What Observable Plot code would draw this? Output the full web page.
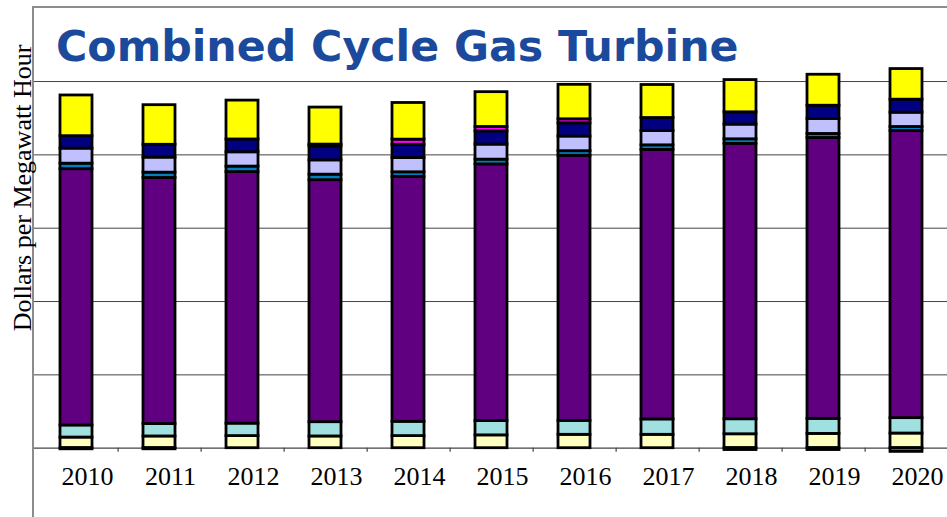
<!DOCTYPE html>
<html>
<head>
<meta charset="utf-8">
<script src="https://cdn.jsdelivr.net/npm/d3@7"></script>
<script src="https://cdn.jsdelivr.net/npm/@observablehq/plot@0.6"></script>
<style>
  html, body { margin: 0; padding: 0; background: #fff; }
  #wrap { position: relative; width: 947px; height: 517px; overflow: hidden; background: #fff; }
  #chart { position: absolute; left: 0; top: 0; }
  #border { position: absolute; left: 31.75px; top: 6.25px; width: 1000px; height: 600px;
            border-left: 2.5px solid #8c8c8c; border-top: 2.5px solid #8c8c8c; pointer-events: none; }
  #title { position: absolute; left: 56px; top: 25px; font-family: "DejaVu Sans", Verdana, sans-serif;
           font-weight: bold; font-size: 42.7px; line-height: 43px; color: #1b4a9c; white-space: nowrap; }
  #ylabel { position: absolute; left: 22.7px; top: 188px; transform: translate(-50%, -50%) rotate(-90deg);
            font-family: "Liberation Serif", "Times New Roman", serif; font-size: 26px; line-height: 26px;
            white-space: nowrap; color: #000; }
</style>
</head>
<body>
<div id="wrap">
  <div id="chart"></div>
  <div id="border"></div>
  <div id="title">Combined Cycle Gas Turbine</div>
  <div id="ylabel">Dollars per Megawatt Hour</div>
</div>
<script>
const years = ["2010","2011","2012","2013","2014","2015","2016","2017","2018","2019","2020"];
const seriesNames = ["Component 1","Component 2","Component 3","Component 4","Component 5","Component 6","Component 7","Component 8"];
const seriesColors = ["#ffffc0","#a0e0e0","#600080","#0080c0","#c0c0ff","#000080","#ff00ff","#ffff00"];

const comp1 = [2.9, 3.2, 3.3, 3.2, 3.3, 3.5, 3.65, 3.65, 3.8, 3.9, 4.0];
const comp2 = [3.3, 3.4, 3.4, 3.9, 3.9, 3.9, 3.8, 4.2, 4.1, 4.1, 4.2];
const comp3 = [69.9, 67.1, 68.6, 66.0, 66.8, 70.0, 72.3, 73.5, 75.1, 76.6, 78.3];
const comp4 = [1.5, 1.45, 1.5, 1.5, 1.25, 1.3, 1.25, 1.25, 1.25, 1.1, 1.1];
const comp5 = [4.1, 4.1, 3.9, 3.9, 3.9, 4.1, 4.0, 3.9, 4.0, 4.1, 3.9];
const comp6 = [3.4, 3.5, 3.5, 3.8, 3.6, 3.6, 3.6, 3.55, 3.35, 3.6, 3.55];
const comp7 = [-0.3, -0.3, 0, 0.5, 1.4, 1.2, 1.1, 0, -0.5, -0.5, -1.0];
const comp8 = [11.1, 10.8, 10.6, 10.1, 10.0, 9.5, 9.4, 9.0, 8.8, 8.45, 8.35];

const gridValues = [20, 40, 60, 80, 100];
const yLabel = "Dollars per Megawatt Hour";

const allSeries = [comp1, comp2, comp3, comp4, comp5, comp6, comp7, comp8];
const data = [];
years.forEach((yr, i) => {
  allSeries.forEach((s, k) => {
    if (s[i] !== 0) data.push({year: yr, series: seriesNames[k], value: s[i]});
  });
});

const marginLeft = 33, marginRight = -2;
const halfStep = (947 - marginLeft - marginRight) / years.length / 2;

const chart = Plot.plot({
  width: 947,
  height: 517,
  marginLeft,
  marginRight,
  marginTop: 7.7,
  marginBottom: 69.3,
  style: {background: "transparent", fontFamily: "'Liberation Serif', 'Times New Roman', serif", fontSize: "26px", color: "#000", overflow: "visible"},
  x: {type: "band", domain: years, paddingInner: 0.62, paddingOuter: 0.31, label: null},
  y: {domain: [0, 120], axis: null},
  color: {domain: seriesNames, range: seriesColors},
  marks: [
    Plot.ruleY(gridValues, {stroke: "#444", strokeWidth: 1}),
    Plot.ruleY([0], {stroke: "#444", strokeWidth: 1.2}),
    Plot.ruleX(years, {x: d => d, y1: 0, y2: -1.1, dx: halfStep, stroke: "#444", strokeWidth: 1.2}),
    Plot.barY(data, {x: "year", y: "value", fill: "series", stroke: "#000", strokeWidth: 2.8, order: seriesNames}),
    Plot.axisX({tickSize: 0, tickPadding: 18.8, dx: 11, fontSize: 26, label: null, fill: "#000"})
  ]
});
document.getElementById("chart").appendChild(chart);
</script>
</body>
</html>
